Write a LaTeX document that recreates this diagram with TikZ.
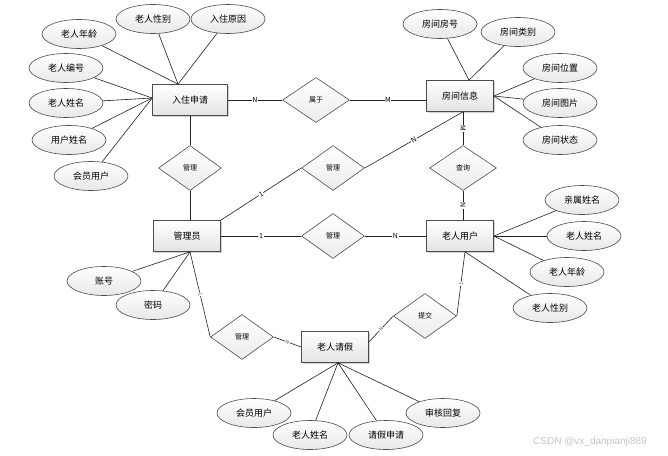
\documentclass[tikz,border=0pt]{standalone}
\usepackage{fontspec}
\setmainfont{Noto Sans CJK SC}
\newfontfamily\wmfont{Liberation Sans}
\usetikzlibrary{shapes.geometric,shadows,calc}
\begin{document}
\begin{tikzpicture}[x=1pt,y=-1pt,
 ent/.style={rectangle,draw=gray!60!black,line width=0.7pt,top color=white,bottom color=gray!22,minimum width=67pt,minimum height=31pt,inner sep=0pt,font=\fontsize{9}{10}\selectfont,drop shadow={shadow xshift=1.2pt,shadow yshift=-1.2pt,opacity=0.35}},
 attr/.style={ellipse,draw=gray!60!black,line width=0.6pt,top color=white,bottom color=gray!18,minimum width=74pt,minimum height=29pt,inner sep=0pt,font=\fontsize{9}{10}\selectfont},
 rel/.style={diamond,draw=gray!60!black,line width=0.6pt,top color=white,bottom color=gray!15,minimum width=63pt,minimum height=45pt,inner sep=0pt,font=\fontsize{7}{8}\selectfont},
 conn/.style={draw=gray!25!black,line width=0.6pt},
 lbl/.style={fill=white,inner sep=0.6pt,font=\fontsize{7}{8}\selectfont,sloped},
 slbl/.style={fill=white,inner sep=0.4pt,font=\fontsize{5}{6}\selectfont,text=gray!70!black,sloped},
]
\fill[white] (0,0) rectangle (668,455);
\useasboundingbox (0,0) rectangle (668,455);

% entities
\node[ent,minimum width=75pt] (rz) at (190,100) {入住申请};
\node[ent] (fx) at (460,96) {房间信息};
\node[ent] (gly) at (187,236) {管理员};
\node[ent] (lry) at (460,236) {老人用户};
\node[ent] (lrq) at (335,347) {老人请假};

% relationships
\node[rel,minimum width=67pt] (sy) at (316,100) {属于};
\node[rel] (gm1) at (190,168) {管理};
\node[rel] (gm2) at (333,168) {管理};
\node[rel,minimum width=67pt] (cx) at (463,168) {查询};
\node[rel] (gm3) at (333,236) {管理};
\node[rel] (gm4) at (242,337) {管理};
\node[rel] (tj) at (425,316) {提交};

% attributes of 入住申请
\node[attr] (a1) at (79,34) {老人年龄};
\node[attr] (a2) at (153,19) {老人性别};
\node[attr] (a3) at (228,19) {入住原因};
\node[attr] (a4) at (66,68) {老人编号};
\node[attr] (a5) at (66,103) {老人姓名};
\node[attr] (a6) at (69,140) {用户姓名};
\node[attr] (a7) at (91,176) {会员用户};

% attributes of 房间信息
\node[attr] (b1) at (440,24) {房间房号};
\node[attr] (b2) at (518,32) {房间类别};
\node[attr] (b3) at (560,68) {房间位置};
\node[attr] (b4) at (560,103) {房间图片};
\node[attr] (b5) at (560,140) {房间状态};

% attributes of 老人用户
\node[attr] (c1) at (582,200) {亲属姓名};
\node[attr] (c2) at (584,236) {老人姓名};
\node[attr] (c3) at (567,272) {老人年龄};
\node[attr] (c4) at (550,308) {老人性别};

% attributes of 管理员
\node[attr] (d1) at (104,281) {账号};
\node[attr] (d2) at (153,305) {密码};

% attributes of 老人请假
\node[attr] (e1) at (254,413) {会员用户};
\node[attr] (e2) at (310,435) {老人姓名};
\node[attr] (e3) at (386,435) {请假申请};
\node[attr] (e4) at (443,413) {审核回复};

% anchor points
\coordinate (rzT) at ([xshift=-12pt]rz.north);
\coordinate (rzL) at ([yshift=2pt]rz.west);
\coordinate (fxT) at ([xshift=9pt]fx.north);
\coordinate (fxR) at (fx.east);
\coordinate (fxB) at ([xshift=3pt]fx.south);
\coordinate (glyB) at ([xshift=3pt]gly.south);
\coordinate (lryR) at (lry.east);
\coordinate (lryB) at ([xshift=5pt]lry.south);
\coordinate (lrqB) at ([xshift=3pt]lrq.south);
\coordinate (lrqR) at ([yshift=5pt]lrq.east);

% attribute connectors
\foreach \a in {a1,a2,a3} \draw[conn] (\a) -- (rzT);
\foreach \a in {a4,a5,a6,a7} \draw[conn] (\a) -- (rzL);
\foreach \a in {b1,b2} \draw[conn] (\a) -- (fxT);
\foreach \a in {b3,b4,b5} \draw[conn] (\a) -- (fxR);
\foreach \a in {c1,c2,c3} \draw[conn] (\a) -- (lryR);
\draw[conn] (c4) -- (lryB);
\foreach \a in {d1,d2} \draw[conn] (\a) -- (glyB);
\foreach \a in {e1,e2,e3,e4} \draw[conn] (\a) -- (lrqB);

% relationship connectors
\draw[conn] (rz.east) -- node[lbl]{N} (sy.west);
\draw[conn] (sy.east) -- node[lbl]{M} (sy.east -| fx.west);
\draw[conn] (rz.south) -- (gm1.north);
\draw[conn] (gm1.south) -- (gm1.south |- gly.north);
\draw[conn] (gly.north east) -- node[lbl]{1} (gm2.west);
\draw[conn] (gm2.east) -- node[lbl]{N} (fxB);
\draw[conn] (fxB) -- node[lbl]{M} (cx.north);
\draw[conn] (cx.south) -- node[lbl]{N} (cx.south |- lry.north);
\draw[conn] (gly.east) -- node[lbl]{1} (gm3.west);
\draw[conn] (gm3.east) -- node[lbl]{N} (lry.west);
\draw[conn] (glyB) -- node[slbl]{1} (gm4.west);
\draw[conn] (gm4.east) -- node[slbl]{N} (lrq.west);
\draw[conn] (lrqR) -- node[slbl]{N} (tj.west);
\draw[conn] (tj.east) -- node[slbl]{1} (lryB);

% watermark
\node[font=\wmfont\fontsize{10}{12}\selectfont,text=gray!45] (wm) at (590,442) {CSDN @vx\_danpianji889};
\end{tikzpicture}
\end{document}
